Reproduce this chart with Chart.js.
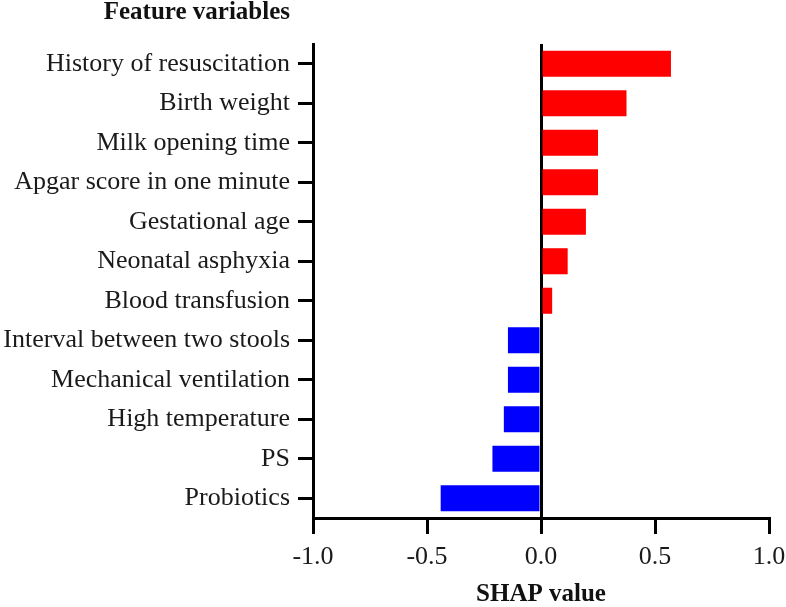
<!DOCTYPE html>
<html>
<head>
<meta charset="utf-8">
<script src="https://cdn.jsdelivr.net/npm/chart.js@4/dist/chart.umd.min.js"></script>
<style>
  html, body { margin: 0; padding: 0; background: #fff; }
  #wrap { width: 786px; height: 607px; }
</style>
</head>
<body>
<div id="wrap"><canvas id="shap"></canvas></div>
<script>
// variables, de arriba hacia abajo
const features = [
    'History of resuscitation',
    'Birth weight',
    'Milk opening time',
    'Apgar score in one minute',
    'Gestational age',
    'Neonatal asphyxia',
    'Blood transfusion',
    'Interval between two stools',
    'Mechanical ventilation',
    'High temperature',
    'PS',
    'Probiotics'
];
const shapValues = [0.57, 0.375, 0.25, 0.25, 0.197, 0.117, 0.049, -0.145, -0.145, -0.163, -0.213, -0.44];
const xTicks = [-1.0, -0.5, 0.0, 0.5, 1.0];

const serif = '"Liberation Serif", "Times New Roman", serif';

// titulo de las variables arriba a la izquierda
const featureTitle = {
    id: 'featureTitle',
    afterDraw(chart) {
        const ctx = chart.ctx;
        ctx.save();
        ctx.font = 'bold 25px ' + serif;
        ctx.fillStyle = '#111';
        ctx.textAlign = 'right';
        ctx.textBaseline = 'alphabetic';
        ctx.fillText('Feature variables', 290, 19);
        ctx.restore();
    }
};

new Chart(document.getElementById('shap'), {
    type: 'bar',
    data: {
        labels: features,
        datasets: [{
            data: shapValues,
            backgroundColor: shapValues.map(v => v >= 0 ? '#ff0000' : '#0000ff'),
            borderWidth: 0,
            barPercentage: 0.66,
            categoryPercentage: 1.0
        }]
    },
    options: {
        indexAxis: 'y',
        responsive: true,
        maintainAspectRatio: false,
        animation: false,
        layout: { padding: { top: 44, right: 17, left: 0, bottom: 0 } },
        plugins: {
            legend: { display: false },
            tooltip: { enabled: false }
        },
        scales: {
            x: {
                min: -1,
                max: 1,
                afterBuildTicks(scale) {
                    scale.ticks = xTicks.map(v => ({ value: v }));
                },
                afterFit(scale) {
                    scale.height = 89;
                    scale.paddingRight = 0;
                },
                border: { display: true, color: '#000', width: 3 },
                grid: {
                    drawOnChartArea: true,
                    color: ctx => (ctx.tick && ctx.tick.value === 0) ? '#000' : 'rgba(0,0,0,0)',
                    lineWidth: 3,
                    tickColor: '#000',
                    tickLength: 16,
                    tickWidth: 3
                },
                ticks: {
                    color: '#1a1a1a',
                    font: { family: serif, size: 26 },
                    padding: 8,
                    callback: v => Number(v).toFixed(1)
                },
                title: {
                    display: true,
                    text: 'SHAP value',
                    color: '#111',
                    font: { family: serif, size: 25, weight: 'bold', lineHeight: 1 },
                    padding: { top: 0, bottom: 0 }
                }
            },
            y: {
                afterFit(scale) { scale.width = 313; },
                border: { display: true, color: '#000', width: 3 },
                grid: {
                    offset: false,
                    drawOnChartArea: false,
                    color: '#000',
                    tickColor: '#000',
                    tickLength: 15,
                    tickWidth: 3
                },
                ticks: {
                    color: '#1a1a1a',
                    font: { family: serif, size: 26 },
                    padding: 8,
                    autoSkip: false
                }
            }
        }
    },
    plugins: [featureTitle]
});
</script>
</body>
</html>
